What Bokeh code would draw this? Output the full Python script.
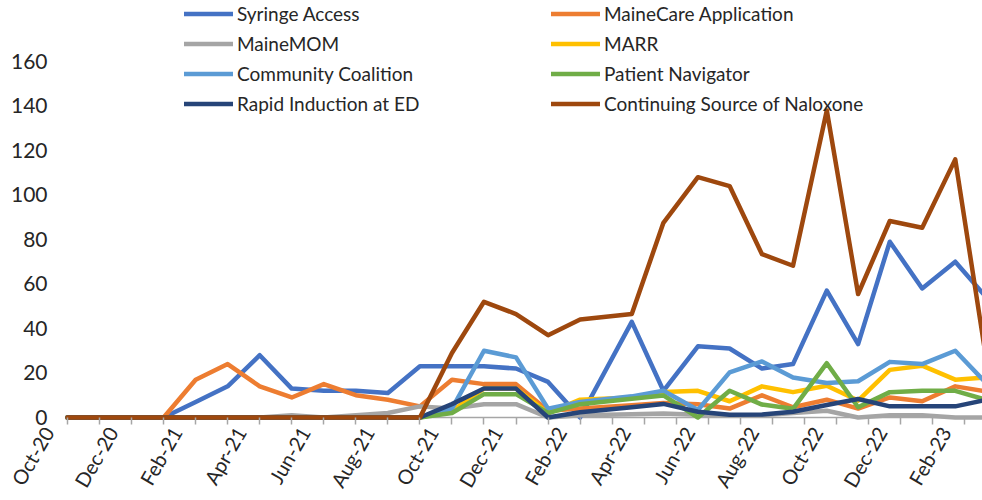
import math
import calendar
from bokeh.plotting import figure
from bokeh.models import (Range1d, FixedTicker, Legend, LegendItem, LinearAxis)
from bokeh.embed import file_html
from bokeh.resources import INLINE

# ---------------- data ----------------
report_dates = [
    "2020-10-01", "2020-11-01", "2020-12-01", "2021-01-01", "2021-02-01",
    "2021-03-01", "2021-04-01", "2021-05-01", "2021-06-01", "2021-07-01",
    "2021-08-01", "2021-09-01", "2021-10-01", "2021-11-01", "2021-12-01",
    "2022-01-01", "2022-02-01", "2022-03-20", "2022-04-19", "2022-05-22",
    "2022-06-21", "2022-07-22", "2022-08-21", "2022-09-22", "2022-10-22",
    "2022-11-21", "2022-12-22", "2023-01-23", "2023-02-20",
]

month_labels = [
    "Oct-20", "Nov-20", "Dec-20", "Jan-21", "Feb-21", "Mar-21", "Apr-21",
    "May-21", "Jun-21", "Jul-21", "Aug-21", "Sep-21", "Oct-21", "Nov-21",
    "Dec-21", "Jan-22", "Feb-22", "Mar-22", "Apr-22", "May-22", "Jun-22",
    "Jul-22", "Aug-22", "Sep-22", "Oct-22", "Nov-22", "Dec-22", "Jan-23",
    "Feb-23", "Mar-23",
]

syringe_access = [0, 0, 0, 0, 7, 14, 28, 13, 12, 12, 11, 23, 23, 23, 22, 16, 0,
                  43, 12, 32, 31, 22, 24, 57, 33, 79, 58, 70, 54]
mainecare_app = [0, 0, 0, 0, 17, 24, 14, 9, 15, 10, 8, 5, 17, 15, 15, 3, 4,
                 5.5, 6.5, 6, 4, 10, 4.6, 8, 4, 9, 7.3, 14, 11.7]
mainemom = [0, 0, 0, 0, 0, 0, 0, 1, 0, 1, 2, 5, 4, 6, 6, 0, 1,
            1.5, 1.8, 1.2, 1, 1, 2, 3, 0, 1, 1, 0, 0]
marr = [0, 0, 0, 0, 0, 0, 0, 0, 0, 0, 0, 0, 3, 13, 13, 2, 8,
        9, 11.5, 12, 7.3, 14, 11.4, 14.3, 7.6, 21.4, 23.3, 17, 18]
community = [0, 0, 0, 0, 0, 0, 0, 0, 0, 0, 0, 0, 4, 30, 27, 4, 7,
             9.5, 12, 3.4, 20.3, 25.2, 18, 15.5, 16.3, 25, 24, 30, 15.4]
patient_nav = [0, 0, 0, 0, 0, 0, 0, 0, 0, 0, 0, 0, 2, 10.5, 10.5, 2, 6,
               8.4, 9.9, 0, 12, 5.8, 3.9, 24.4, 4.6, 11.4, 12, 12, 7.9]
rapid_ed = [0, 0, 0, 0, 0, 0, 0, 0, 0, 0, 0, 0, 6, 13, 13, 0, 2.4,
            4.6, 6.1, 2.6, 1.2, 1.3, 2.6, 5.6, 8.3, 5, 5, 5, 7.9]
naloxone = [0, 0, 0, 0, 0, 0, 0, 0, 0, 0, 0, 0, 29, 52, 46.5, 37, 44,
            46.5, 87.5, 108, 104, 73.4, 68.2, 138, 55.5, 88.3, 85.3, 116, 26]

series_names = ["Syringe Access", "MaineCare Application", "MaineMOM", "MARR",
                "Community Coalition", "Patient Navigator",
                "Rapid Induction at ED", "Continuing Source of Naloxone"]
series_values = [syringe_access, mainecare_app, mainemom, marr, community,
                 patient_nav, rapid_ed, naloxone]
series_colors = ["#4472C4", "#ED7D31", "#A5A5A5", "#FFC000", "#5B9BD5",
                 "#70AD47", "#264478", "#9E480E"]

y_ticks = [0, 20, 40, 60, 80, 100, 120, 140, 160]


def month_position(d):
    y, m, dd = (int(t) for t in d.split("-"))
    return (y - 2020) * 12 + (m - 10) + (dd - 1) / calendar.monthrange(y, m)[1]


x_vals = [month_position(d) for d in report_dates]

# ---------------- layout constants ----------------
FONT = "Lato"
TEXT = "#262626"
AXIS_GRAY = "#A6A6A6"
X_START, X_END = -0.843, 28.56      # frame spans the plot width in month units
Y_START, Y_END = -3.146, 187.4
LABEL_SHIFT = 0.6                   # rotated labels sit a little left of ticks

p = figure(width=982, height=500, output_backend="svg", toolbar_location=None,
           x_range=Range1d(X_START, X_END), y_range=Range1d(Y_START, Y_END),
           x_axis_location=None,
           min_border_left=40, min_border_right=0, min_border_top=0,
           min_border_bottom=76)
p.outline_line_color = None
p.grid.visible = False
p.background_fill_color = "white"
p.border_fill_color = "white"

# category axis base line (from first month to the right edge)
p.segment(x0=[x_vals[0]], y0=[0], x1=[X_END], y1=[0],
          line_color=AXIS_GRAY, line_width=1.5)

renderers = []
for name, vals, col in zip(series_names, series_values, series_colors):
    r = p.line(x_vals, vals, line_color=col, line_width=4.5,
               line_join="round", line_cap="round")
    renderers.append(r)

# x axis: month tick marks (minor) + rotated labels every 2 months (major)
p.extra_x_ranges = {"lab": Range1d(X_START + LABEL_SHIFT, X_END + LABEL_SHIFT)}
label_ticks = [i for i in range(0, len(month_labels), 2)]
month_ticks = [i + LABEL_SHIFT for i in range(len(month_labels))]
xa = LinearAxis(x_range_name="lab",
                ticker=FixedTicker(ticks=label_ticks, minor_ticks=month_ticks))
xa.major_label_overrides = {i: month_labels[i] for i in label_ticks}
xa.major_label_orientation = math.radians(60)
xa.major_label_text_font = FONT
xa.major_label_text_font_size = "20px"
xa.major_label_text_color = TEXT
xa.major_label_standoff = 4
xa.axis_line_color = None
xa.major_tick_line_color = None
xa.major_tick_in = 0
xa.major_tick_out = 0
xa.minor_tick_line_color = AXIS_GRAY
xa.minor_tick_line_width = 1.5
xa.minor_tick_in = 7
xa.minor_tick_out = 0
p.add_layout(xa, "below")

# y axis
ya = p.yaxis[0]
ya.ticker = FixedTicker(ticks=y_ticks)
ya.axis_line_color = None
ya.major_tick_line_color = None
ya.minor_tick_line_color = None
ya.major_tick_out = 0
ya.major_tick_in = 0
ya.major_label_standoff = -7
ya.major_label_text_font = FONT
ya.major_label_text_font_size = "21px"
ya.major_label_text_color = TEXT

# legends: two columns
left_idx = [0, 2, 4, 6]
right_idx = [1, 3, 5, 7]
for idxs, xoff in ((left_idx, 144), (right_idx, 511)):
    lg = Legend(items=[LegendItem(label=series_names[i], renderers=[renderers[i]])
                       for i in idxs],
                location=(xoff, 307), orientation="vertical",
                padding=0, spacing=3, label_height=27, glyph_height=27,
                glyph_width=49, label_standoff=4,
                label_text_font=FONT, label_text_font_size="19px",
                label_text_color=TEXT,
                border_line_color=None, background_fill_alpha=0)
    p.add_layout(lg, "center")

open("out.html", "w").write(file_html(p, INLINE))
